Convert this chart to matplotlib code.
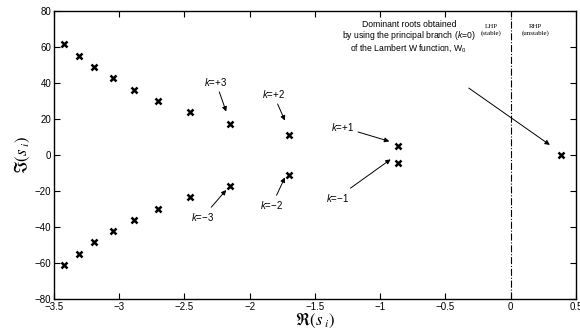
import numpy as np
import matplotlib
matplotlib.use('Agg')
import matplotlib.pyplot as plt

plt.rcParams['font.family'] = ['Liberation Sans', 'DejaVu Sans']
plt.rcParams['mathtext.fontset'] = 'custom'
plt.rcParams['mathtext.it'] = 'Liberation Sans:italic'
plt.rcParams['mathtext.rm'] = 'Liberation Sans'

# roots s_i
re_upper = [-3.42, -3.31, -3.19, -3.05, -2.89, -2.70, -2.46, -2.15, -1.70, -0.865]
im_upper = [61.3, 55.0, 48.6, 42.4, 36.0, 29.8, 23.5, 17.2, 11.0, 4.8]
re_lower = re_upper
im_lower = [-v for v in im_upper]
re_dom = [0.385]
im_dom = [0.0]

fig = plt.figure(figsize=(5.8, 3.33), dpi=100)
ax = fig.add_axes([0.093, 0.102, 0.9, 0.866])

mk = dict(marker='x', color='black', linestyle='none', markersize=4.5, markeredgewidth=1.8)
ax.plot(re_upper, im_upper, **mk)
ax.plot(re_lower, im_lower, **mk)
ax.plot(re_dom, im_dom, **mk)

ax.axvline(0, color='black', linestyle='-.', linewidth=0.8)

ax.set_xlim(-3.5, 0.5)
ax.set_ylim(-80, 80)
ax.set_xticks(np.arange(-3.5, 0.51, 0.5))
ax.set_xticklabels(['\u22123.5', '\u22123', '\u22122.5', '\u22122', '\u22121.5', '\u22121', '\u22120.5', '0', '0.5'])
ax.set_yticks(np.arange(-80, 81, 20))
ax.set_yticklabels(['\u221280', '\u221260', '\u221240', '\u221220', '0', '20', '40', '60', '80'])
ax.tick_params(direction='in', top=True, right=True, labelsize=7, length=4, pad=2)
for s in ax.spines.values():
    s.set_linewidth(1.0)

ax.set_xlabel(r'$\Re(s_{\ i})$', fontsize=12, math_fontfamily='stix', labelpad=-1)
ax.set_ylabel(r'$\Im(s_{\ i})$', fontsize=12, math_fontfamily='stix', labelpad=2)

ap = dict(arrowstyle='-|>', color='black', lw=0.7, mutation_scale=7, shrinkA=1, shrinkB=0)
fs = 7
ax.annotate('$k$=+3', xy=(-2.18, 24.0), xytext=(-2.26, 40.5), fontsize=fs, ha='center', va='center', arrowprops=ap)
ax.annotate('$k$=+2', xy=(-1.73, 19.0), xytext=(-1.82, 33.8), fontsize=fs, ha='center', va='center', arrowprops=ap)
ax.annotate('$k$=+1', xy=(-0.93, 7.5), xytext=(-1.29, 15.3), fontsize=fs, ha='center', va='center', arrowprops=ap)
ax.annotate('$k$=\u22121', xy=(-0.92, -2.5), xytext=(-1.33, -23.8), fontsize=fs, ha='center', va='center', arrowprops=ap)
ax.annotate('$k$=\u22123', xy=(-2.18, -19.5), xytext=(-2.36, -34.5), fontsize=fs, ha='center', va='center', arrowprops=ap)
ax.annotate('$k$=\u22122', xy=(-1.73, -12.5), xytext=(-1.83, -28.0), fontsize=fs, ha='center', va='center', arrowprops=ap)

ax.text(-0.78, 65.4, 'Dominant roots obtained\nby using the principal branch ($k$=0)\nof the Lambert W function, W$_0$',
        fontsize=6.2, ha='center', va='center', linespacing=0.95)
ax.annotate('', xy=(0.30, 5.5), xytext=(-0.33, 37.5), arrowprops=ap)

ax.text(-0.15, 69.5, 'LHP\n(stable)', family='Liberation Serif', fontsize=5, ha='center', va='center', linespacing=1.25)
ax.text(0.19, 69.5, 'RHP\n(unstable)', family='Liberation Serif', fontsize=5, ha='center', va='center', linespacing=1.25)

fig.savefig('out.png', dpi=100)
